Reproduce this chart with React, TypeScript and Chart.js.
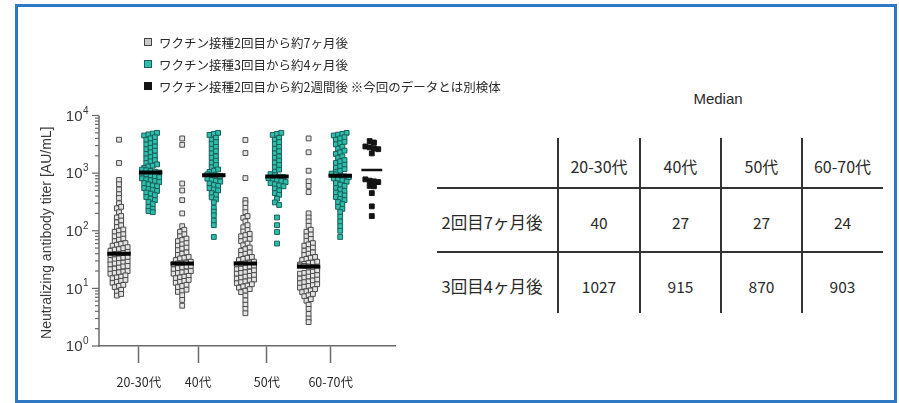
import { useEffect, useRef } from "react";
import { Chart, registerables } from "chart.js";

Chart.register(...registerables);

// ---- data -------------------------------------------------------------
const AGE_GROUPS = ["20-30代", "40代", "50代", "60-70代"];
const SERIES_LABELS = [
  "ワクチン接種2回目から約7ヶ月後",
  "ワクチン接種3回目から約4ヶ月後",
  "ワクチン接種2回目から約2週間後 ※今回のデータとは別検体",
];
const TABLE_TITLE = "Median";
const TABLE_ROWS = ["2回目7ヶ月後", "3回目4ヶ月後"];
const MEDIAN_2ND_7M = [40, 27, 27, 24];
const MEDIAN_3RD_4M = [1027, 915, 870, 903];
const MEDIAN_2ND_2W = 1130;

// Neutralizing antibody titers [AU/mL], 2nd dose + ~7 months
const SECOND_7M_2030 = [
  3800, 1500, 760, 640, 520, 430, 370, 300, 245, 260, 210, 170, 180, 140, 150,
  116, 124, 96, 100, 105, 80, 84, 87, 66, 70, 73, 55, 57, 59, 61, 45, 47, 48,
  50, 52, 38, 39, 40, 41, 43, 31, 32, 33, 34, 35, 26, 27, 27.5, 28, 29, 21.5,
  22, 23, 24, 24.5, 18, 18.5, 19, 19.5, 20, 15, 15.5, 16, 16.8, 12.5, 13, 13.5,
  14, 10.5, 11, 11.5, 8.8, 9.4, 7.5, 8.0,
];
const SECOND_7M_40 = [
  4000, 3100, 660, 500, 340, 200, 120, 96, 104, 80, 87, 66, 69, 73, 55, 58, 61,
  46, 49, 51, 38, 40, 42, 31, 33, 34, 35, 26, 27, 27, 28, 29, 21.5, 22.5, 23,
  24, 24.5, 18, 18.5, 19, 19.5, 20, 15, 15.5, 16, 16.5, 12.5, 13, 13.5, 14,
  10.5, 11, 11.5, 8.7, 9.0, 9.5, 7.6, 6.3, 5.0,
];
const SECOND_7M_50 = [
  3760, 2230, 820, 340, 300, 250, 210, 168, 180, 145, 115, 125, 97, 103, 80, 84,
  88, 66, 70, 72, 56, 60, 45, 48, 51, 38, 40, 42, 31, 32.5, 34, 35, 26, 26.5,
  27, 28, 29, 21.5, 22, 23, 24, 24.5, 18, 18.5, 19, 19.5, 20.5, 14.8, 15.3, 16,
  16.5, 17, 12.3, 12.8, 13.2, 13.7, 14.2, 10.3, 10.8, 11.2, 11.8, 8.6, 9.1, 9.7,
  7.5, 6.2, 5.2, 4.4, 3.7,
];
const SECOND_7M_6070 = [
  4000, 2300, 1100, 720, 600, 470, 200, 170, 145, 122, 96, 104, 80, 86, 67, 72,
  55, 58, 61, 45, 48, 51, 38, 40, 42, 31, 32.5, 34, 35, 26, 26.5, 27.5, 28, 29,
  24.8, 24.5, 24, 23, 22, 18, 18.5, 19, 19.5, 20.5, 14.8, 15.3, 16, 16.5, 17,
  12.3, 12.8, 13.2, 13.7, 14.2, 10.3, 10.7, 11, 11.4, 11.8, 8.6, 8.9, 9.2, 9.7,
  7.3, 7.6, 8.0, 6.1, 6.5, 5.2, 4.4, 3.6, 3.0, 2.6,
];

// 3rd dose + ~4 months
const THIRD_4M_2030 = [
  4500, 4700, 4850, 5000, 3800, 4000, 4200, 3150, 3300, 3500, 2600, 2750, 2900,
  2150, 2300, 2450, 1800, 1900, 2000, 1500, 1600, 1680, 1230, 1300, 1350, 1420,
  1150, 1120, 1090, 1060, 1027, 980, 950, 910, 880, 850, 810, 780, 750, 730,
  700, 670, 640, 610, 590, 550, 530, 510, 490, 460, 440, 415, 385, 360, 340,
  315, 290, 260, 240, 220, 210,
];
const THIRD_4M_40 = [
  4600, 4800, 5000, 3800, 4100, 3200, 3450, 2650, 2850, 2200, 2400, 1850, 1950,
  1520, 1650, 1260, 1380, 1050, 1100, 1160, 950, 930, 915, 890, 800, 760, 730,
  710, 660, 620, 600, 550, 520, 500, 450, 420, 380, 350, 310, 250, 215, 185,
  150, 125, 78,
];
const THIRD_4M_50 = [
  4600, 4800, 5000, 3800, 4100, 3200, 3450, 2650, 2850, 2200, 2400, 1850, 1950,
  1520, 1650, 1260, 1380, 1060, 1150, 960, 920, 870, 850, 820, 790, 760, 730,
  700, 670, 640, 610, 590, 540, 500, 450, 420, 360, 310, 280, 170, 125, 95, 60,
];
const THIRD_4M_6070 = [
  4500, 4650, 4800, 5000, 3800, 4000, 4200, 3150, 3300, 3500, 2650, 2850, 2150,
  2300, 2450, 1850, 1950, 1500, 1600, 1680, 1240, 1320, 1400, 1040, 1100, 1170,
  980, 950, 903, 880, 850, 810, 780, 750, 710, 670, 630, 600, 550, 520, 490,
  460, 430, 410, 385, 355, 340, 315, 290, 260, 240, 210, 175, 145, 120, 100, 78,
];

// 2nd dose + ~2 weeks (separate cohort)
const SECOND_2W_REF = [
  3600, 3400, 2900, 2800, 2700, 2600, 2200, 780, 740, 720, 700, 600, 590, 450,
  265, 180,
];

const SECOND_7M = [SECOND_7M_2030, SECOND_7M_40, SECOND_7M_50, SECOND_7M_6070];
const THIRD_4M = [THIRD_4M_2030, THIRD_4M_40, THIRD_4M_50, THIRD_4M_6070];

// ---- styling / layout ---------------------------------------------------
const GRAY_FILL = "#e4e4e4";
const GRAY_EDGE = "#4a4a4a";
const TEAL_FILL = "#2cbfae";
const TEAL_EDGE = "#1b5f59";
const BLACK = "#141414";
const AXIS_COLOR = "#6a6a6a";
const TEXT_COLOR = "#2a2a2a";
const JP_FONT = '"Noto Sans CJK JP", "Noto Sans", sans-serif';
const LATIN_FONT = '"Liberation Sans", Arial, sans-serif';

// x axis is measured in swarm columns (gray, teal per age group, then the reference column)
const X_MIN = -0.633;
const X_MAX = 8.734;
const AGE_TICK_POS = [0.63, 2.5, 4.68, 6.7];
const ROW_DEC = 0.08; // decades covered by one swarm row
const DX = 0.136; // horizontal step between points in a row
const BAR_HALF = 0.37;

type Pt = { x: number; y: number };

// Prism-style scatter: values falling into the same log row are spread sideways
function swarm(values: number[], col: number): Pt[] {
  const rows = new Map<number, number[]>();
  for (const v of values) {
    const k = Math.round(Math.log10(v) / ROW_DEC);
    if (!rows.has(k)) rows.set(k, []);
    rows.get(k)!.push(v);
  }
  const pts: Pt[] = [];
  rows.forEach((vs) => {
    const n = vs.length;
    vs.forEach((v, i) => pts.push({ x: col + (i - (n - 1) / 2) * DX, y: v }));
  });
  return pts;
}

function bar(col: number, value: number, half = BAR_HALF): Pt[] {
  return [
    { x: col - half, y: value },
    { x: col + half, y: value },
  ];
}

// Log y axis with 10^n labels, minor ticks and rotated title
const logAxisPlugin = {
  id: "logAxis",
  afterDraw(chart: any) {
    const { ctx, chartArea } = chart;
    const y = chart.scales.y;
    const x0 = chartArea.left;
    ctx.save();
    ctx.strokeStyle = AXIS_COLOR;
    ctx.lineWidth = 1.5;
    ctx.beginPath();
    ctx.moveTo(x0, chartArea.top);
    ctx.lineTo(x0, chartArea.bottom + 0.75);
    ctx.stroke();
    ctx.lineWidth = 1.2;
    for (let e = 0; e <= 4; e++) {
      const base = Math.pow(10, e);
      const py = y.getPixelForValue(base);
      ctx.beginPath();
      ctx.moveTo(x0 - 7, py);
      ctx.lineTo(x0, py);
      ctx.stroke();
      if (e < 4) {
        for (let m = 2; m <= 9; m++) {
          const pm = y.getPixelForValue(base * m);
          ctx.beginPath();
          ctx.moveTo(x0 - 4, pm);
          ctx.lineTo(x0, pm);
          ctx.stroke();
        }
      }
      ctx.fillStyle = "#3a3a3a";
      ctx.font = `15px ${LATIN_FONT}`;
      ctx.textAlign = "right";
      ctx.textBaseline = "middle";
      ctx.fillText("10", x0 - 16.5, py + 1);
      ctx.font = `10px ${LATIN_FONT}`;
      ctx.textAlign = "left";
      ctx.textBaseline = "alphabetic";
      ctx.fillText(String(e), x0 - 16, py - 2);
    }
    ctx.translate(x0 - 52, (chartArea.top + chartArea.bottom) / 2 + 2);
    ctx.rotate(-Math.PI / 2);
    ctx.fillStyle = "#3a3a3a";
    ctx.font = `14px ${LATIN_FONT}`;
    ctx.textAlign = "center";
    ctx.textBaseline = "middle";
    ctx.fillText("Neutralizing antibody titer [AU/mL]", 0, 0);
    ctx.restore();
  },
};

function TiterChart() {
  const ref = useRef<HTMLCanvasElement | null>(null);
  useEffect(() => {
    if (!ref.current) return;
    const pointSets: any[] = [];
    const barSets: any[] = [];
    AGE_GROUPS.forEach((_, i) => {
      pointSets.push({
        label: SERIES_LABELS[0],
        data: swarm(SECOND_7M[i], 2 * i),
        backgroundColor: GRAY_FILL,
        borderColor: GRAY_EDGE,
        order: 2,
      });
      pointSets.push({
        label: SERIES_LABELS[1],
        data: swarm(THIRD_4M[i], 2 * i + 1),
        backgroundColor: TEAL_FILL,
        borderColor: TEAL_EDGE,
        order: 2,
      });
      barSets.push({ data: bar(2 * i, MEDIAN_2ND_7M[i]), showLine: true, borderColor: "#000", borderWidth: 4, pointRadius: 0, order: 1 });
      barSets.push({ data: bar(2 * i + 1, MEDIAN_3RD_4M[i]), showLine: true, borderColor: "#000", borderWidth: 4, pointRadius: 0, order: 1 });
    });
    pointSets.push({
      label: SERIES_LABELS[2],
      data: swarm(SECOND_2W_REF, 8),
      backgroundColor: BLACK,
      borderColor: BLACK,
      order: 2,
    });
    barSets.push({ data: bar(8, MEDIAN_2ND_2W, 0.33), showLine: true, borderColor: "#111", borderWidth: 2.5, pointRadius: 0, order: 1 });

    const chart = new Chart(ref.current, {
      type: "scatter",
      data: {
        datasets: [
          ...barSets,
          ...pointSets.map((d) => ({ ...d, pointStyle: "rect", pointRadius: 3.4, borderWidth: 1 })),
        ],
      },
      options: {
        responsive: false,
        animation: false,
        events: [],
        layout: { padding: { left: 99, top: 115.5, right: 35, bottom: 0 } },
        plugins: { legend: { display: false }, tooltip: { enabled: false } },
        scales: {
          x: {
            type: "linear",
            min: X_MIN,
            max: X_MAX,
            afterBuildTicks: (s: any) => {
              s.ticks = AGE_TICK_POS.map((v) => ({ value: v }));
            },
            afterFit: (s: any) => {
              s.height = 57;
            },
            ticks: {
              autoSkip: false,
              maxRotation: 0,
              padding: 12,
              color: TEXT_COLOR,
              font: { family: JP_FONT, size: 12.5 },
              callback: (_v: any, i: number) => AGE_GROUPS[i],
            },
            grid: { drawOnChartArea: false, drawTicks: true, tickLength: 17, tickColor: AXIS_COLOR, tickWidth: 1.5 },
            border: { display: true, color: AXIS_COLOR, width: 1.5 },
          },
          y: { type: "logarithmic", min: 1, max: 10000, display: false },
        },
      } as any,
      plugins: [logAxisPlugin],
    });
    return () => chart.destroy();
  }, []);
  return <canvas ref={ref} width={430} height={403} style={{ position: "absolute", left: 0, top: 0 }} />;
}

const LEGEND_SWATCHES = [
  { fill: "#c9c9c9", edge: "#444" },
  { fill: TEAL_FILL, edge: TEAL_EDGE },
  { fill: BLACK, edge: BLACK },
];
const LEGEND_ROW_Y = [42, 64, 86];

function Legend() {
  return (
    <>
      {SERIES_LABELS.map((label, i) => (
        <div
          key={label}
          style={{
            position: "absolute",
            left: 144,
            top: LEGEND_ROW_Y[i] - 10,
            height: 20,
            display: "flex",
            alignItems: "center",
            whiteSpace: "nowrap",
            fontFamily: JP_FONT,
            fontSize: 12.5,
            color: TEXT_COLOR,
          }}
        >
          <span
            style={{
              display: "inline-block",
              width: 8,
              height: 8,
              boxSizing: "border-box",
              background: LEGEND_SWATCHES[i].fill,
              border: `1px solid ${LEGEND_SWATCHES[i].edge}`,
              marginRight: 7,
            }}
          />
          {label}
        </div>
      ))}
    </>
  );
}

const COL_X = [599, 680.5, 761.5, 842.5];
const ROW_Y = [166, 222, 286];
const LABEL_X = 492;

function Cell({ cx, cy, text, size, font = JP_FONT }: { cx: number; cy: number; text: string; size: number; font?: string }) {
  return (
    <div
      style={{
        position: "absolute",
        left: cx - 60,
        width: 120,
        top: cy - 12,
        height: 24,
        lineHeight: "24px",
        textAlign: "center",
        whiteSpace: "nowrap",
        fontFamily: font,
        fontSize: size,
        color: TEXT_COLOR,
      }}
    >
      {text}
    </div>
  );
}

function MedianTable() {
  const vLines = [558, 640, 721, 802];
  const hLines = [188, 252];
  const values = [MEDIAN_2ND_7M, MEDIAN_3RD_4M];
  return (
    <>
      <Cell cx={718} cy={99} text={TABLE_TITLE} size={15} font={LATIN_FONT} />
      {vLines.map((x) => (
        <div key={"v" + x} style={{ position: "absolute", left: x - 0.75, top: 138, width: 1.5, height: 175, background: "#333" }} />
      ))}
      {hLines.map((y) => (
        <div key={"h" + y} style={{ position: "absolute", left: 437, top: y - 0.75, width: 446, height: 1.5, background: "#333" }} />
      ))}
      {AGE_GROUPS.map((g, j) => (
        <Cell key={g} cx={COL_X[j]} cy={ROW_Y[0]} text={g} size={16} />
      ))}
      {TABLE_ROWS.map((r, i) => (
        <div key={r}>
          <Cell cx={LABEL_X} cy={ROW_Y[i + 1]} text={r} size={16.5} />
          {values[i].map((v, j) => (
            <Cell key={j} cx={COL_X[j]} cy={ROW_Y[i + 1]} text={String(v)} size={15.5} />
          ))}
        </div>
      ))}
    </>
  );
}

export default function App() {
  return (
    <div style={{ position: "absolute", left: 0, top: 0, width: 899, height: 403, background: "#fff", overflow: "hidden" }}>
      <div
        style={{
          position: "absolute",
          left: 15,
          top: 4,
          width: 882,
          height: 399,
          boxSizing: "border-box",
          border: "3px solid #2f78c4",
        }}
      />
      <TiterChart />
      <Legend />
      <MedianTable />
    </div>
  );
}
